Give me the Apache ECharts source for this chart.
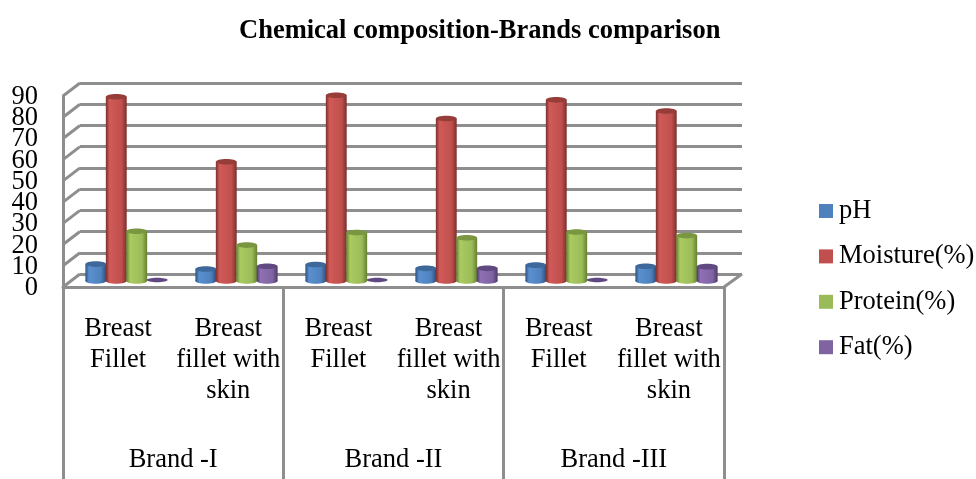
<!DOCTYPE html>
<html>
<head>
<meta charset="utf-8">
<style>
  html, body { margin: 0; padding: 0; background: #fff; }
  #chart { width: 976px; height: 479px; }
</style>
<script src="https://cdn.jsdelivr.net/npm/echarts@6/dist/echarts.min.js"></script>
</head>
<body>
<div id="chart"></div>
<script>
var products = ['Breast\nFillet', 'Breast\nfillet with\nskin', 'Breast\nFillet', 'Breast\nfillet with\nskin', 'Breast\nFillet', 'Breast\nfillet with\nskin'];
var brands = ['Brand -I', 'Brand -II', 'Brand -III'];
var yTicks = [0, 10, 20, 30, 40, 50, 60, 70, 80, 90];

var pH = [8, 5.7, 7.8, 6, 7.5, 7];
var moisture = [87.3, 56.5, 88, 77, 85.8, 80.5];
var protein = [23.6, 17, 23, 20.5, 23.2, 21.5];
var fat = [0.5, 7, 0.5, 6, 0.5, 6.8];

var fontName = '"Liberation Serif", "Times New Roman", serif';
var wallColor = '#8e8e8e';

// top, edge and mid colour of each cylinder
function cylinder(name, values, idx, color, dark, light, topColor) {
    return {
        name: name,
        type: 'custom',
        xAxisIndex: 3,
        yAxisIndex: 2,
        z: 5,
        clip: false,
        itemStyle: {color: color},
        encode: {x: 0, y: 1},
        data: values.map(function (v, i) { return [i, v]; }),
        renderItem: function (params, api) {
            var w = api.size([1, 0])[0] * 0.186;
            var base = api.coord([api.value(0), 0]);
            var top = api.coord([api.value(0), api.value(1)]);
            var x = base[0] + (idx - 1.5) * w;
            var ry = 2.8;
            var fill = new echarts.graphic.LinearGradient(0, 0, 1, 0, [
                {offset: 0, color: dark},
                {offset: 0.18, color: light},
                {offset: 0.75, color: color},
                {offset: 1, color: dark}
            ]);
            var rx = w / 2 + 0.2;
            if (api.value(1) < 2) {
                // almost no height: only a flat disc shows
                return {type: 'ellipse', shape: {cx: x, cy: base[1] - 1, rx: rx, ry: 2.2}, style: {fill: topColor}};
            }
            return {
                type: 'group',
                children: [
                    {type: 'rect', shape: {x: x - rx, y: top[1], width: rx * 2, height: base[1] - top[1]}, style: {fill: fill}},
                    {type: 'ellipse', shape: {cx: x, cy: base[1], rx: rx, ry: ry}, style: {fill: fill}},
                    {type: 'ellipse', shape: {cx: x, cy: top[1], rx: rx, ry: ry}, style: {fill: topColor}}
                ]
            };
        }
    };
}

var option = {
    animation: false,
    backgroundColor: '#fff',
    title: {
        text: 'Chemical composition-Brands comparison',
        left: 234,
        top: 13,
        textStyle: {fontFamily: fontName, fontSize: 26.5, fontWeight: 'bold', color: '#000'}
    },
    legend: {
        orient: 'vertical',
        left: 819,
        top: 196,
        itemWidth: 14,
        itemHeight: 14,
        itemGap: 15.4,
        icon: 'rect',
        padding: 0,
        textStyle: {fontFamily: fontName, fontSize: 26.5, color: '#000', padding: [0, 0, 0, 1], lineHeight: 30},
        data: ['pH', 'Moisture(%)', 'Protein(%)', 'Fat(%)']
    },
    grid: [
        {left: 80, right: 234, top: 83, height: 191},   // back wall
        {left: 63, right: 252, top: 96, height: 191},   // front edge, carries the labels
        {left: 71.5, right: 244.5, top: 91, height: 190} // plane the bars stand on
    ],
    xAxis: [
        {gridIndex: 0, type: 'category', data: products, show: false},
        {
            gridIndex: 1, type: 'category', data: products,
            axisLine: {lineStyle: {color: wallColor, width: 3}},
            axisTick: {show: false},
            axisLabel: {interval: 0, margin: 27, verticalAlign: 'top', fontFamily: fontName, fontSize: 26.5, lineHeight: 31, color: '#000'}
        },
        {
            gridIndex: 1, type: 'category', data: brands, position: 'bottom',
            axisLine: {show: false},
            axisTick: {show: true, length: 192, lineStyle: {color: wallColor, width: 3}},
            axisLabel: {interval: 0, margin: 160, verticalAlign: 'top', fontFamily: fontName, fontSize: 26.5, color: '#000'}
        },
        {gridIndex: 2, type: 'category', data: products, show: false}
    ],
    yAxis: [
        {
            gridIndex: 0, type: 'value', min: 0, max: 90, interval: 10,
            axisLine: {show: false}, axisTick: {show: false}, axisLabel: {show: false},
            splitLine: {showMinLine: true, showMaxLine: true, lineStyle: {color: wallColor, width: 3}}
        },
        {
            // tick labels are too tight for the axis's own overlap check, the wall series below draws them
            gridIndex: 1, type: 'value', min: 0, max: 90, interval: 10,
            axisLine: {show: true, lineStyle: {color: wallColor, width: 3}},
            axisTick: {show: false},
            splitLine: {show: false},
            axisLabel: {show: false}
        },
        {gridIndex: 2, type: 'value', min: 0, max: 90, interval: 10, show: false, splitLine: {show: false}}
    ],
    series: [
        // side wall and floor diagonals, y tick labels
        {
            type: 'custom',
            xAxisIndex: 1,
            yAxisIndex: 1,
            silent: true,
            z: 1,
            clip: false,
            data: yTicks.map(function (v) { return [0, v]; }),
            renderItem: function (params, api) {
                var y = api.coord([0, api.value(1)])[1];
                var sys = params.coordSys;
                var items = [{
                    type: 'line',
                    shape: {x1: sys.x, y1: y, x2: sys.x + 17, y2: y - 13},
                    style: {stroke: wallColor, lineWidth: 3}
                }, {
                    type: 'text',
                    style: {
                        text: String(api.value(1)),
                        x: sys.x - 25,
                        y: y + 1,
                        align: 'right',
                        verticalAlign: 'middle',
                        font: '26.5px ' + fontName,
                        fill: '#000'
                    }
                }];
                if (api.value(1) === 0) {
                    items.push({
                        type: 'line',
                        shape: {x1: sys.x + sys.width, y1: y, x2: sys.x + sys.width + 18, y2: y - 13},
                        style: {stroke: wallColor, lineWidth: 3}
                    });
                }
                return {type: 'group', children: items};
            }
        },
        cylinder('pH', pH, 0, '#4F81BD', '#2c4f7c', '#5a90d0', '#3d6899'),
        cylinder('Moisture(%)', moisture, 1, '#C0504D', '#7c2f2d', '#d05a57', '#963d3a'),
        cylinder('Protein(%)', protein, 2, '#9BBB59', '#64802f', '#a9cb60', '#7a9640'),
        cylinder('Fat(%)', fat, 3, '#8064A2', '#4f3a6b', '#8f70b4', '#604880')
    ]
};

var myChart = echarts.init(document.getElementById('chart'));
myChart.setOption(option);
</script>
</body>
</html>
